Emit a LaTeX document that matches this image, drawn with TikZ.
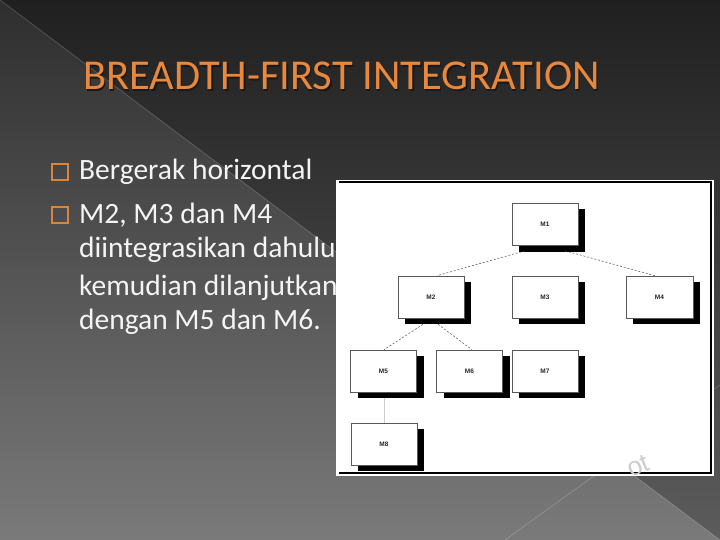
\documentclass[tikz,border=0pt]{standalone}
\usepackage{fontspec}
\setmainfont{Carlito}
\newfontfamily\labfont{Liberation Sans}
\usetikzlibrary{calc,shadows}
\definecolor{bgtop}{HTML}{202020}
\definecolor{bgmid}{HTML}{303030}
\definecolor{bgbot}{HTML}{5C5C5C}
\definecolor{lttop}{HTML}{2E2E2E}
\definecolor{ltmid}{HTML}{454545}
\definecolor{ltbot}{HTML}{7A7A7A}
\definecolor{titleorange}{HTML}{E8883C}
\definecolor{bulletorange}{HTML}{D9853B}
\definecolor{bodywhite}{HTML}{F4F4F4}
\tikzset{
  titletext/.style={anchor=base west, inner sep=0pt, font=\fontsize{42.5}{46}\selectfont},
  bodytext/.style={anchor=base west, inner sep=0pt, text=bodywhite, font=\fontsize{29.5}{32}\selectfont},
  bulletsq/.style={draw=bulletorange, line width=1.6pt, fill=none, minimum size=16.5pt, inner sep=0pt},
  mbox/.style={draw=black!65, line width=0.6pt, fill=white, minimum width=66pt, minimum height=42pt, inner sep=0pt,
    font=\labfont\bfseries\fontsize{6.5}{7}\selectfont, text=black!85,
    drop shadow={shadow xshift=7pt, shadow yshift=-6pt, fill=black, opacity=1}},
  dashlink/.style={draw=black!70, line width=0.5pt, dash pattern=on 2pt off 1.8pt},
  bgline/.style={draw=white, draw opacity=0.2, line width=0.7pt}
}
\begin{document}
\begin{tikzpicture}[x=1pt,y=-1pt]
\useasboundingbox (0,0) rectangle (720,540);
% background
\shade[top color=bgtop, middle color=bgmid, bottom color=bgbot] (0,0) rectangle (720,540);
\begin{scope}
  \clip (0,0) -- (720,540) -- (0,540) -- cycle;
  \shade[top color=lttop, middle color=ltmid, bottom color=ltbot] (0,0) rectangle (720,540);
\end{scope}
\draw[bgline] (0,0) -- (720,540);
\draw[bgline] (505,540) -- (720,385);
% title
\node[titletext, text=black!90] (titleshadow) at (84.5,91.5) {BREADTH-FIRST INTEGRATION};
\node[titletext, text=titleorange] (title) at (83,90) {BREADTH-FIRST INTEGRATION};
% bullets
\node[bulletsq] (b1) at (60,172) {};
\node[bulletsq] (b2) at (60,215) {};
\node[bodytext] (l1) at (79,180) {Bergerak horizontal};
\node[bodytext] (l2) at (79,223) {M2, M3 dan M4};
\node[bodytext] (l3) at (79,258) {diintegrasikan dahulu};
\node[bodytext] (l4) at (79,295) {kemudian dilanjutkan};
\node[bodytext] (l5) at (79,329) {dengan M5 dan M6.};
% picture frame
\fill[white] (336,180) rectangle (714,476);
\draw[black, line width=1.3pt] (339,182) -- (711,182) -- (711,473) -- (339,473);
% module boxes
\node[mbox] (M1) at (545,224.5) {M1};
\node[mbox] (M2) at (431,297) {M2};
\node[mbox] (M3) at (545,297) {M3};
\node[mbox, minimum width=67pt] (M4) at (659.5,297) {M4};
\node[mbox] (M5) at (383.5,371) {M5};
\node[mbox] (M6) at (469.5,371) {M6};
\node[mbox] (M7) at (545,371) {M7};
\node[mbox] (M8) at (384,444) {M8};
% connectors
\draw[dashlink] ($(M1.south)+(-20,5)$) -- ($(M2.north)+(6,0)$);
\draw[dashlink] ($(M1.south)+(20,5)$) -- ($(M4.north)+(-4.5,0)$);
\draw[dashlink] ($(M2.south)+(-8,6)$) -- ($(M5.north)+(0.5,0)$);
\draw[dashlink] ($(M2.south)+(7,6)$) -- ($(M6.north)+(2.5,0)$);
\draw[black!20, line width=0.6pt] ($(M5.south)+(0.5,6)$) -- (M8.north);
% watermark
\node[text=black!20, font=\labfont\fontsize{26}{28}\selectfont, rotate=22, inner sep=0pt] (wm) at (638,466) {ot};
\end{tikzpicture}
\end{document}
